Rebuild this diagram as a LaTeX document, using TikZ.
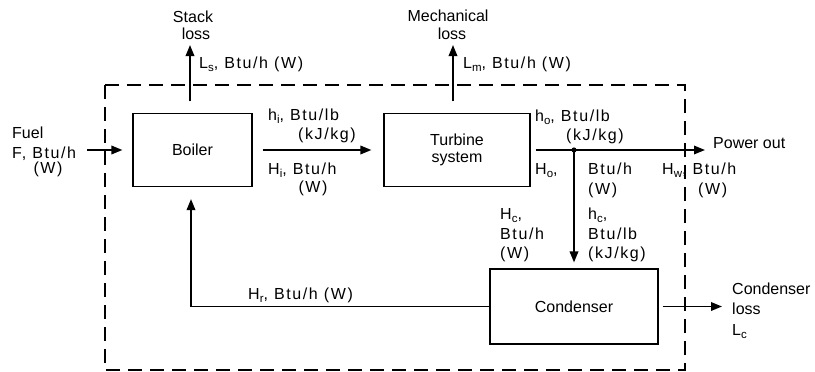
\documentclass[tikz,border=0pt]{standalone}
\usepackage{fontspec}
\setmainfont{Liberation Sans}
\newfontfamily\lblfont[LetterSpace=10]{Liberation Sans}
\usetikzlibrary{arrows.meta}
\newcommand\lsub[1]{\raisebox{-0.45ex}{\fontsize{11.5}{11.5}\selectfont #1}}
\begin{document}
\begin{tikzpicture}[x=1pt,y=-1pt,
  font=\fontsize{16}{17}\selectfont,
  box/.style={draw, line width=1.1pt, inner sep=0pt, align=center},
  flow/.style={line width=1.8pt, -{Triangle[length=11pt,width=8.5pt]}},
  lab/.style={anchor=base west, inner sep=0pt, font=\fontsize{16}{18}\selectfont\lblfont},
  labc/.style={anchor=base, inner sep=0pt, font=\fontsize{16}{18}\selectfont\lblfont},
  txt/.style={anchor=base west, inner sep=0pt},
  txtc/.style={anchor=base, inner sep=0pt},
  sysline/.style={line width=1.1pt, dash pattern=on 14pt off 8pt}]
\useasboundingbox (0,0) rectangle (815,372);

% system boundary
\draw[sysline] (105,85) rectangle (685,370);

% boxes
\node[box, minimum width=119pt, minimum height=73pt] (boiler) at (192.5,150) {Boiler};
\node[box, minimum width=146pt, minimum height=73pt] (turbine) at (457,150) {Turbine\\system};
\node[box, minimum width=168pt, minimum height=75pt] (condenser) at (574,306.5) {Condenser};

% coordinates
\coordinate (fuelin) at (87,150);
\coordinate (stacktip) at (190,45);
\coordinate (mechtip) at (453,45);
\coordinate (junc) at (574,150);
\coordinate (powertip) at (705,150);
\coordinate (closs) at (722,306.5);

% connectors
\draw[flow] (fuelin) -- ([xshift=-10pt]boiler.west);
\draw[flow] ([xshift=-2.5pt,yshift=11.5pt]boiler.north) -- (stacktip);
\draw[flow] ([xshift=-4pt,yshift=11.5pt]turbine.north) -- (mechtip);
\draw[flow] ([xshift=10pt]boiler.east) -- ([xshift=-12pt]turbine.west);
\draw[flow] ([xshift=5pt]turbine.east) -- (powertip);
\fill (junc) circle (2.6pt);
\draw[flow] (junc) -- ([yshift=6pt]condenser.north);
\draw[flow] ([xshift=4pt]condenser.east) -- (closs);
\draw[flow] (condenser.west) -| ([xshift=-1.5pt,yshift=-12pt]boiler.south);

% labels
\node[txtc] (stack1) at (193,23) {Stack};
\node[txtc] (stack2) at (196,39) {loss};
\node[lab] (ls) at (199,68) {L\lsub{s}, Btu/h (W)};
\node[txtc] (mech1) at (448,21) {Mechanical};
\node[txtc] (mech2) at (452,39) {loss};
\node[lab] (lm) at (463,68) {L\lsub{m}, Btu/h (W)};

\node[txt] (fuel1) at (12,138) {Fuel};
\node[lab] (fuel2) at (12,158) {F, Btu/h};
\node[labc] (fuel3) at (48,173) {(W)};

\node[lab] (hi1) at (268,120) {h\lsub{i}, Btu/lb};
\node[labc] (hi2) at (327,139) {(kJ/kg)};
\node[lab] (Hi1) at (268,174) {H\lsub{i}, Btu/h};
\node[labc] (Hi2) at (313,192) {(W)};

\node[lab] (ho1) at (535,121) {h\lsub{o}, Btu/lb};
\node[labc] (ho2) at (595,140) {(kJ/kg)};
\node[lab] (Ho1) at (535,174) {H\lsub{o},};
\node[lab] (Ho2) at (588,174) {Btu/h};
\node[lab] (Ho3) at (588,194) {(W)};

\node[lab] (Hw1) at (662,174) {H\lsub{w}, Btu/h};
\node[lab] (Hw2) at (698,194) {(W)};
\node[txt] (power) at (713,148) {Power out};

\node[lab] (Hc1) at (500,219) {H\lsub{c},};
\node[lab] (Hc2) at (500,239) {Btu/h};
\node[lab] (Hc3) at (500,258) {(W)};
\node[lab] (hc1) at (588,219) {h\lsub{c},};
\node[lab] (hc2) at (588,239) {Btu/lb};
\node[lab] (hc3) at (588,258) {(kJ/kg)};

\node[txt] (cl1) at (732,294) {Condenser};
\node[txt] (cl2) at (732,314) {loss};
\node[txt] (cl3) at (732,335) {L\lsub{c}};

\node[lab] (Hr) at (248,299) {H\lsub{r}, Btu/h (W)};
\end{tikzpicture}
\end{document}
